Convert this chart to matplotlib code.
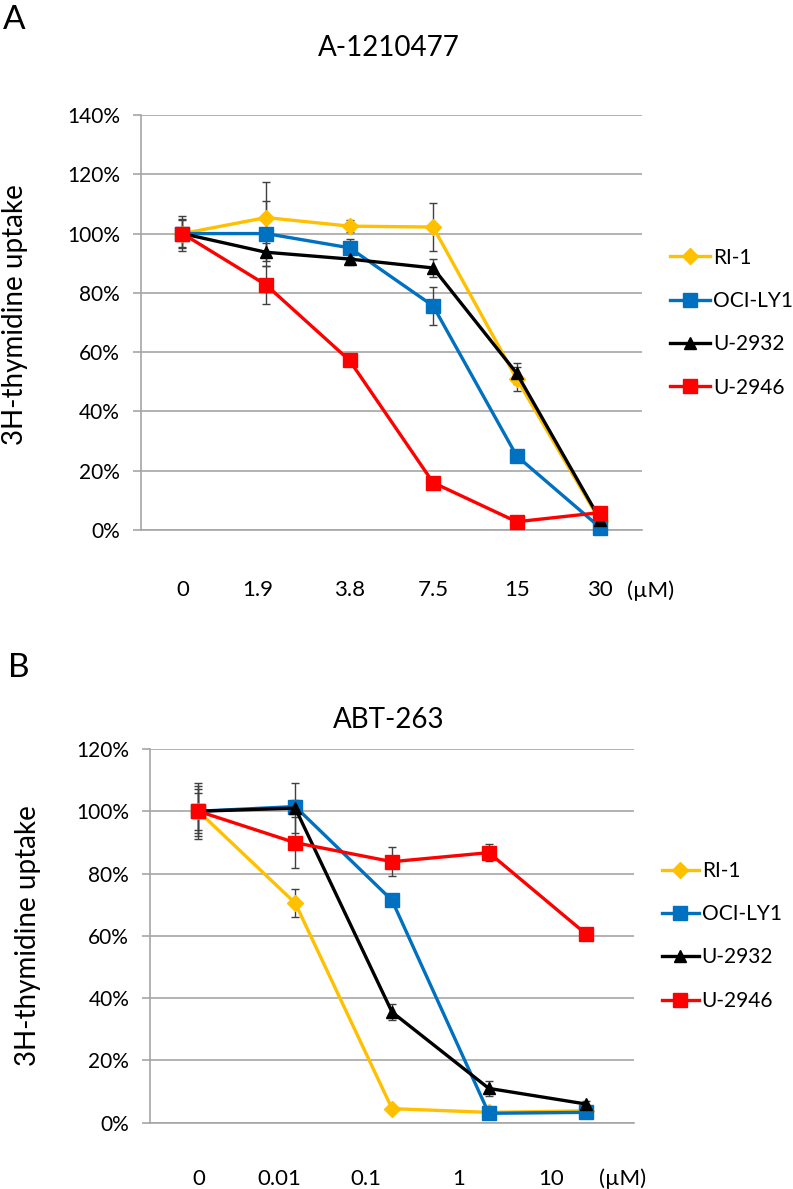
import matplotlib.pyplot as plt
from matplotlib.ticker import PercentFormatter, MultipleLocator
import matplotlib.transforms as mtransforms

plt.rcParams['font.family'] = ['Lato', 'DejaVu Sans']

# Datos del panel A (A-1210477)
dosis_a = ["0", "1.9", "3.8", "7.5", "15", "30"]
ri1_a = [100, 105.4, 102.5, 102.2, 51, 3]
ocily1_a = [100, 100, 95.2, 75.6, 25, 0.8]
u2932_a = [100, 93.7, 91.4, 88.4, 52.9, 3.5]
u2946_a = [100, 82.7, 57.2, 16, 2.8, 5.9]
err_ri1_a = [6, 12, 2, 8, 4, 1]
err_ocily1_a = [4.5, 11, 3, 6.5, 1, 0.5]
err_u2932_a = [2, 3, 2, 3, 3.5, 1]
err_u2946_a = [5, 6.5, 2, 1, 1, 1]

# Datos del panel B (ABT-263)
dosis_b = ["0", "0.01", "0.1", "1", "10"]
ri1_b = [100, 70.5, 4.5, 3.3, 3.8]
ocily1_b = [100, 101.5, 71.4, 3, 3.3]
u2932_b = [100, 101, 35.5, 11, 6]
u2946_b = [100, 89.9, 83.8, 86.7, 60.7]
err_ri1_b = [8, 4.4, 0.5, 0.5, 0.5]
err_ocily1_b = [6, 2, 1, 0.5, 0.5]
err_u2932_b = [9, 8, 2.5, 2.5, 1]
err_u2946_b = [7, 8.2, 4.6, 2.7, 1]

lineas = ["RI-1", "OCI-LY1", "U-2932", "U-2946"]
colores = ["#FFC000", "#0070C0", "#000000", "#FF0000"]
marcadores = ["D", "s", "^", "s"]
tamanos = [8, 10, 9, 10.5]

gris = "#A6A6A6"

fig = plt.figure(figsize=(7.93, 11.89), dpi=100)
axA = fig.add_axes([0.1774, 0.5542, 0.6322, 0.3491])
axB = fig.add_axes([0.1892, 0.0558, 0.6103, 0.3143])


def graficar(ax, series, errores, ymax, etiquetas, pos_etiquetas, pos_um, y_etq, leg_x, hlen):
    handles = []
    for nombre, vals, errs, c, m, ms in zip(lineas, series, errores, colores, marcadores, tamanos):
        cont = ax.errorbar(range(len(vals)), vals, yerr=errs, color=c, marker=m, ms=ms,
                           mec=c, lw=2.4, ecolor="#404040", elinewidth=1, capsize=3,
                           capthick=1, zorder=3, clip_on=False)
        handles.append(cont[0])
    ax.set_xlim(-0.5, len(etiquetas) - 0.5)
    ax.set_ylim(0, ymax)
    ax.yaxis.set_major_locator(MultipleLocator(20))
    ax.yaxis.set_major_formatter(PercentFormatter(decimals=0))
    ax.grid(axis="y", color=gris, lw=1.2)
    ax.set_axisbelow(True)
    ax.set_xticks([])
    for s in ["top", "right"]:
        ax.spines[s].set_visible(False)
    ax.spines["left"].set_color(gris)
    ax.spines["bottom"].set_color(gris)
    ax.spines["left"].set_linewidth(1.2)
    ax.spines["bottom"].set_linewidth(1.2)
    ax.tick_params(axis="y", length=6, width=1.2, color=gris, labelsize=15, pad=9)
    ax.set_ylabel("3H-thymidine uptake", fontsize=20)
    trans = mtransforms.blended_transform_factory(ax.transData, ax.transAxes)
    for etq, px in zip(etiquetas, pos_etiquetas):
        ax.text(px, y_etq, etq, transform=trans, ha="center", va="center", fontsize=16)
    ax.text(pos_um, y_etq, "(\u00b5M)", transform=trans, ha="center", va="center", fontsize=16)
    ax.legend(handles, lineas, loc="center left", bbox_to_anchor=(leg_x, 0.5), frameon=False,
              fontsize=15, handlelength=hlen, handletextpad=0.15, borderpad=0,
              borderaxespad=0, labelspacing=1.12, numpoints=1)


graficar(axA, [ri1_a, ocily1_a, u2932_a, u2946_a],
         [err_ri1_a, err_ocily1_a, err_u2932_a, err_u2946_a],
         140, dosis_a, [0, 0.9, 2, 3, 4, 5], 5.6, -0.145, 1.056, 1.9)
graficar(axB, [ri1_b, ocily1_b, u2932_b, u2946_b],
         [err_ri1_b, err_ocily1_b, err_u2932_b, err_u2946_b],
         120, dosis_b, [0, 0.84, 1.73, 2.69, 3.64], 4.38, -0.15, 1.058, 1.75)

axA.yaxis.set_label_coords(-0.225, 0.52)
axB.yaxis.set_label_coords(-0.225, 0.5)

fig.text(0.49, 1 - 48 / 1189, "A-1210477", ha="center", va="center", fontsize=20)
fig.text(0.49, 1 - 720 / 1189, "ABT-263", ha="center", va="center", fontsize=20)
fig.text(0.004, 1 - 20 / 1189, "A", ha="left", va="center", fontsize=24)
fig.text(0.01, 1 - 668 / 1189, "B", ha="left", va="center", fontsize=24)

fig.savefig("out.png", dpi=100)
